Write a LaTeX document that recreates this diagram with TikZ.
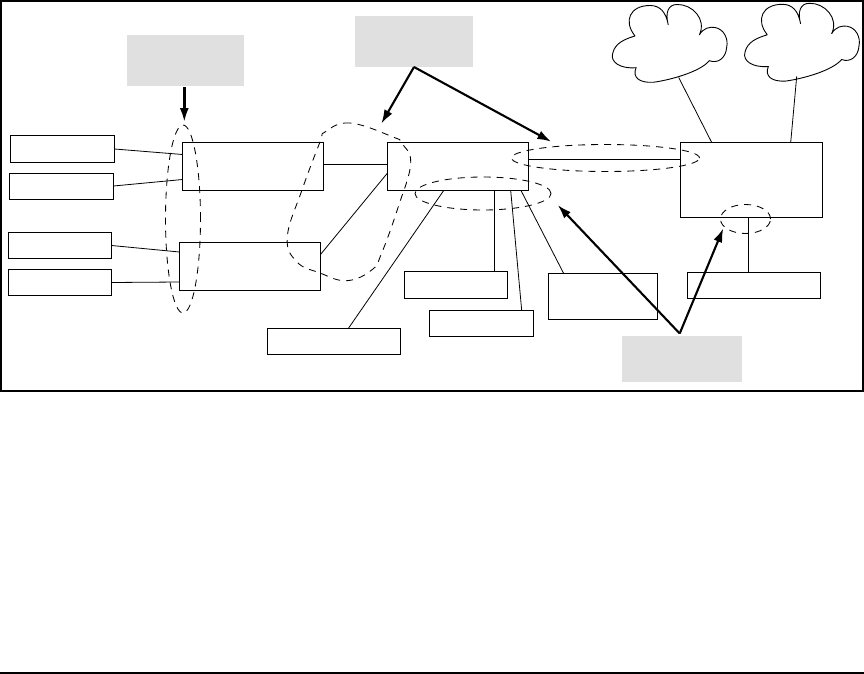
\documentclass[tikz,border=0pt]{standalone}
\usepackage{xcolor}
\usetikzlibrary{arrows.meta,shapes.geometric}
\definecolor{Callout}{HTML}{E0E0E0}
\tikzset{
  cloudshape/.pic={
    \draw[line width=0.9pt] (-33,11) .. controls (-45,-4) and (-38,-19.5) .. (-18,-19.5)
      .. controls (-8,-19.5) and (-2,-13) .. (0.3,0)
      .. controls (-3,-12) and (0,-20.5) .. (9,-20.5)
      .. controls (24,-21) and (39,-6) .. (31.3,10)
      .. controls (35,3) and (42,1.5) .. (47,2.5)
      .. controls (56,4) and (60.5,14) .. (58.7,22)
      .. controls (58,33) and (50,39) .. (41.3,35.7)
      .. controls (32,47) and (2,55) .. (-14.7,57.3)
      .. controls (-28,58) and (-36,53) .. (-32,42.7)
      .. controls (-48,44) and (-58,37) .. (-55.3,28.3)
      .. controls (-53,18) and (-43,14) .. (-33,11);
    \coordinate (-foot) at (10.7,52.5);
  }
}
\begin{document}
\begin{tikzpicture}[x=1pt,y=-1pt]
      \tikzstyle{device}=[draw, line width=0.9pt, inner sep=0pt, outer sep=0pt]
      \tikzstyle{callout}=[fill=Callout, inner sep=0pt, outer sep=0pt]
      \tikzstyle{link}=[line width=0.8pt]
      \tikzstyle{ring}=[draw, dash pattern=on 7pt off 6pt, line width=0.85pt]
      \tikzstyle{pointer}=[-{Latex[length=14pt,width=9pt]}, line width=2.1pt]
      \useasboundingbox (0,0) rectangle (864,674);
      \draw[line width=2pt] (1,1) rectangle (862.8,391);
      \draw[line width=1.2pt] (0,673) -- (864,673);
      % callouts
      \node[callout, minimum width=117pt, minimum height=51pt] (g1) at (185.5,60.5) {};
      \node[callout, minimum width=118pt, minimum height=51pt] (g2) at (414,41.5) {};
      \node[callout, minimum width=120pt, minimum height=46pt] (g3) at (682,359) {};
      % left column
      \node[device, minimum width=104pt, minimum height=27pt] (t1) at (62.5,149) {};
      \node[device, minimum width=104pt, minimum height=26pt] (t2) at (61.5,186) {};
      \node[device, minimum width=103pt, minimum height=26pt] (t3) at (60,245.5) {};
      \node[device, minimum width=103pt, minimum height=26pt] (t4) at (60,282.5) {};
      % switches and router
      \node[device, minimum width=141pt, minimum height=48pt] (sw1) at (253,166.5) {};
      \node[device, minimum width=141pt, minimum height=48pt] (sw2) at (250,266.5) {};
      \node[device, minimum width=141pt, minimum height=48pt] (sw3) at (458,166.5) {};
      \node[device, minimum width=142pt, minimum height=75pt] (rt) at (751.5,180) {};
      % lower row
      \node[device, minimum width=103pt, minimum height=27pt] (b1) at (456,285) {};
      \node[device, minimum width=104pt, minimum height=26pt] (b2) at (481.5,323.5) {};
      \node[device, minimum width=133pt, minimum height=26pt] (b3) at (334,341.5) {};
      \node[device, minimum width=109pt, minimum height=46pt] (b4) at (603,296.5) {};
      \node[device, minimum width=133pt, minimum height=26pt] (b5) at (754,285.5) {};
      % clouds
      \pic (c1) at (668,25) {cloudshape};
      \pic (c2) at (800.3,23.8) {cloudshape};
      % links
      \draw[link] (t1.east) -- ([yshift=12pt]sw1.west);
      \draw[link] (t2.east) -- ([yshift=-13pt]sw1.west);
      \draw[link] (t3.east) -- ([yshift=14.5pt]sw2.west);
      \draw[link] (t4.east) -- ([yshift=-15.5pt]sw2.west);
      \draw[link] ([yshift=2pt]sw1.east) -- ([yshift=2pt]sw3.west);
      \draw[link] ([yshift=12pt]sw2.east) -- ([yshift=-6.5pt]sw3.west);
      \draw[link] ([yshift=7pt]sw3.east) -- ([yshift=20.5pt]rt.west);
      \draw[link] ([xshift=-14.3pt]sw3.south) -- ([xshift=14.3pt]b3.north);
      \draw[link] ([xshift=36.3pt]sw3.south) -- ([xshift=38.3pt]b1.north);
      \draw[link] ([xshift=52.7pt]sw3.south) -- ([xshift=40.2pt]b2.north);
      \draw[link] ([xshift=63pt]sw3.south) -- ([xshift=-39.3pt]b4.north);
      \draw[link] ([xshift=-3.2pt]rt.south) -- ([xshift=-5.7pt]b5.north);
      \draw[link] (c1-foot) -- ([xshift=-39.8pt]rt.north);
      \draw[link] ([xshift=-14.3pt]c2-foot) -- ([xshift=39.2pt]rt.north);
      % dashed groups
      \node[ring, ellipse, inner sep=0pt, minimum width=35pt, minimum height=188pt] (e1) at (183,219) {};
      \node[ring, ellipse, inner sep=0pt, minimum width=188pt, minimum height=27pt] (e3) at (605.5,158) {};
      \node[ring, ellipse, inner sep=0pt, minimum width=136pt, minimum height=33pt] (e4) at (483,193.5) {};
      \node[ring, ellipse, inner sep=0pt, minimum width=50pt, minimum height=29pt] (e5) at (745.5,219) {};
      \draw[ring] plot[smooth cycle,tension=0.7] coordinates {(393,137) (350,123) (325,132) (320,142) (302,190) (287.3,236.7) (296.7,261.7) (320,273) (346.7,280.7) (371.7,270) (381.7,253) (398.3,206.7) (410.7,163.3) (401.7,143.3)};
      % pointer ends
      \coordinate (p2) at (381.3,123.7);
      \coordinate (p3) at (551.3,141.7);
      \coordinate (p4) at (557.7,205);
      \coordinate (p5) at (723.3,228.3);
      \draw[pointer, line width=2.6pt] ([xshift=-1.2pt,yshift=-1pt]g1.south) -- ([xshift=1.3pt,yshift=2.5pt]e1.north);
      \draw[pointer] (g2.south) -- (p2);
      \draw[pointer] (g2.south) -- (p3);
      \draw[pointer] ([xshift=-2.3pt,yshift=2.5pt]g3.north) -- (p4);
      \draw[pointer] ([xshift=-2.3pt,yshift=2.5pt]g3.north) -- (p5);
    \end{tikzpicture}
\end{document}
